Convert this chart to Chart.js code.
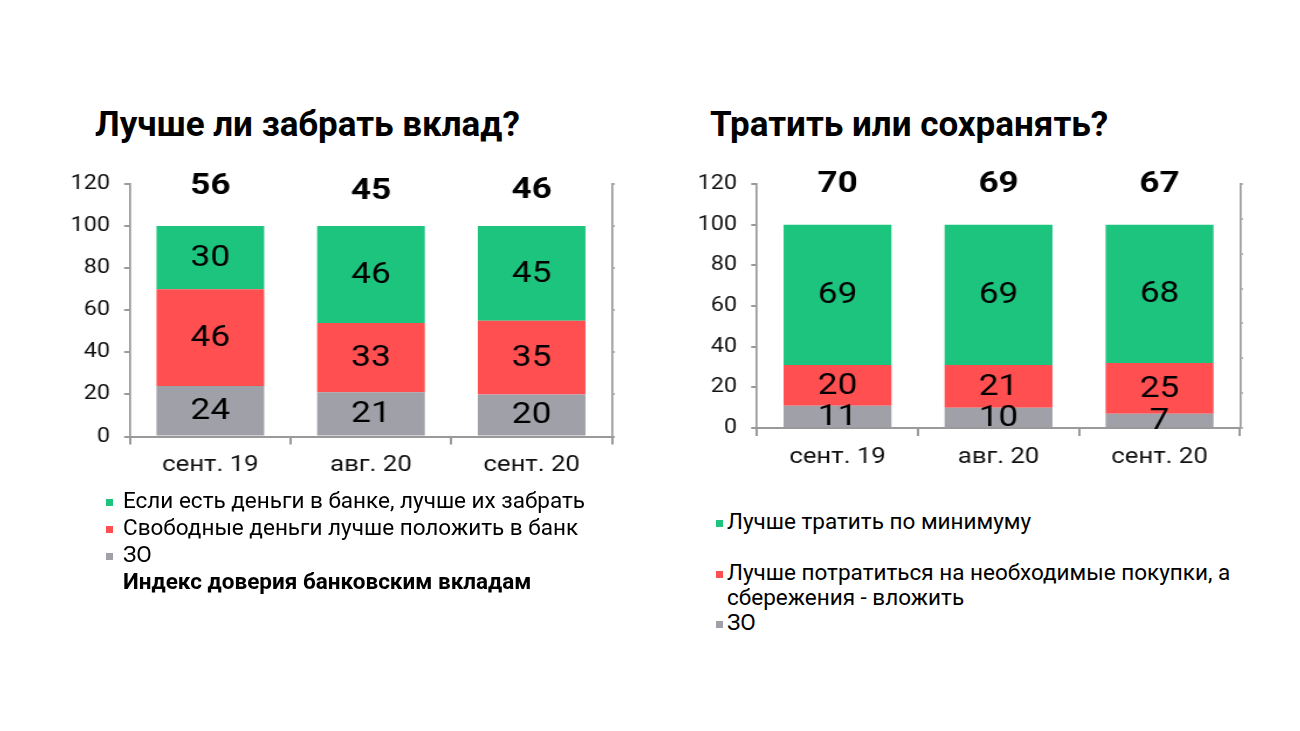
<!DOCTYPE html>
<html>
<head>
<meta charset="utf-8">
<script src="https://cdn.jsdelivr.net/npm/chart.js@4"></script>
<style>
body{margin:0;width:1300px;height:731px;background:#fff;position:relative;overflow:hidden;font-family:Roboto,sans-serif;color:#000}
.title{position:absolute;font-weight:bold;font-size:35px;white-space:nowrap}
canvas{position:absolute}
.legend{position:absolute;font-size:22.5px}
.legend div{position:relative}
.legend span{position:absolute;left:0;width:7px;height:7px}
#depLegend{line-height:27px}
#depLegend div{padding-left:17px;white-space:nowrap}
#depLegend span{top:12px}
#spendLegend{line-height:25px;width:560px}
#spendLegend div{padding-left:11px}
#spendLegend span{top:11px}
</style>
</head>
<body>
<div class="title" style="left:95px;top:104px">Лучше ли забрать вклад?</div>
<div class="title" style="left:710px;top:104px">Тратить или сохранять?</div>
<!-- the chart pictures are stretched a bit in width, like in the slide -->
<canvas id="depChart" width="487" height="330" style="left:60px;top:160px;width:570px;height:330px"></canvas>
<canvas id="spendChart" width="496" height="320" style="left:690px;top:160px;width:580px;height:320px"></canvas>
<div class="legend" id="depLegend" style="left:106px;top:487px"></div>
<div class="legend" id="spendLegend" style="left:716px;top:509px"></div>
<script>
// categories
const months = ['сент. 19', 'авг. 20', 'сент. 20'];

// left chart: Лучше ли забрать вклад?
const depTake = [30, 46, 45];
const depBank = [46, 33, 35];
const depNa = [24, 21, 20];
const depIndex = [56, 45, 46];
const depNames = ['Если есть деньги в банке, лучше их забрать', 'Свободные деньги лучше положить в банк', 'ЗО'];
const depIndexName = 'Индекс доверия банковским вкладам';

// right chart: Тратить или сохранять?
const spendMin = [69, 69, 68];
const spendBuy = [20, 21, 25];
const spendNa = [11, 10, 7];
const spendIndex = [70, 69, 67];
const spendNames = ['Лучше тратить по минимуму', 'Лучше потратиться на необходимые покупки, а сбережения - вложить', 'ЗО'];

const green = '#1dc47e', red = '#ff4f50', gray = '#a0a0a8';
const axisGray = '#9a9a9a';

//writes the numbers in the middle of each block and the index over the bars
const valueLabels = {
    id: 'valueLabels',
    afterDatasetsDraw(chart) {
        const ctx = chart.ctx;
        ctx.save();
        ctx.textAlign = 'center';
        ctx.textBaseline = 'middle';
        ctx.fillStyle = '#000';
        chart.data.datasets.forEach((ds, i) => {
            const meta = chart.getDatasetMeta(i);
            meta.data.forEach((el, j) => {
                if (ds.type === 'line') {
                    ctx.font = 'bold 30px Roboto';
                    ctx.fillText(ds.data[j], el.x, el.y);
                } else {
                    ctx.font = '30px Roboto';
                    ctx.fillText(ds.data[j], el.x, (el.y + el.base) / 2 + 1);
                }
            });
        });
        ctx.restore();
    }
};

var makeChart = function (id, gr, rd, gy, idx, opt) {
    const ctx = document.getElementById(id).getContext('2d');
    return new Chart(ctx, {
        data: {
            labels: months,
            datasets: [
                {type: 'bar', label: 'ЗО', data: gy, backgroundColor: gray},
                {type: 'bar', label: 'red', data: rd, backgroundColor: red},
                {type: 'bar', label: 'green', data: gr, backgroundColor: green},
                {type: 'line', label: 'index', data: idx, yAxisID: 'y2', showLine: false, pointRadius: 0}
            ]
        },
        options: {
            responsive: false,
            animation: false,
            devicePixelRatio: 1,
            datasets: {bar: {categoryPercentage: 1, barPercentage: 0.67}},
            layout: {padding: {top: 24, left: 0, right: 0, bottom: 0}},
            plugins: {legend: {display: false}, tooltip: {enabled: false}},
            scales: {
                x: {
                    stacked: true,
                    grid: {drawOnChartArea: false, tickLength: 8, color: axisGray, lineWidth: 2},
                    border: {color: axisGray, width: 2},
                    ticks: {color: '#111', font: {family: 'Roboto', size: 22}, padding: 8},
                    afterFit: s => { s.height = opt.xh; }
                },
                y: {
                    stacked: true, min: 0, max: 120,
                    ticks: {stepSize: 20, color: '#111', font: {family: 'Roboto', size: 20}, padding: 12},
                    grid: {drawOnChartArea: false, tickLength: 5, color: axisGray, lineWidth: 2},
                    border: {color: axisGray, width: 1.7},
                    afterFit: s => { s.width = opt.yw; }
                },
                y2: {
                    position: 'right', min: opt.y2min, max: opt.y2max,
                    ticks: {display: false},
                    grid: {drawOnChartArea: false, tickLength: 2.5, color: '#b0b0b0', lineWidth: 2},
                    border: {color: axisGray, width: 1.7},
                    afterBuildTicks: s => {
                        const t = [];
                        for (let k = 0; k < opt.n2; k++) t.push({value: s.min + (s.max - s.min) * k / (opt.n2 - 1)});
                        s.ticks = t;
                    },
                    afterFit: s => { s.width = opt.y2w; }
                }
            }
        },
        plugins: [valueLabels]
    });
};

makeChart('depChart', depTake, depBank, depNa, depIndex,
    {yw: 59.8, y2w: 15.4, xh: 53.5, y2min: -495, y2max: 60.4, n2: 7});
makeChart('spendChart', spendMin, spendBuy, spendNa, spendIndex,
    {yw: 57.3, y2w: 25.6, xh: 52, y2min: -3000, y2max: 72, n2: 8});

//html legends
var legend = function (id, names, extra) {
    const cols = [green, red, gray];
    let html = '';
    names.forEach((n, i) => {
        let st = '';
        if (id === 'spendLegend' && i === 0) st = ' style="margin-bottom:26px"';
        html += '<div' + st + '><span style="background:' + cols[i] + '"></span>' + n + '</div>';
    });
    if (extra) html += '<div style="font-weight:bold">' + extra + '</div>';
    document.getElementById(id).innerHTML = html;
};
legend('depLegend', depNames, depIndexName);
legend('spendLegend', spendNames);
</script>
</body>
</html>
